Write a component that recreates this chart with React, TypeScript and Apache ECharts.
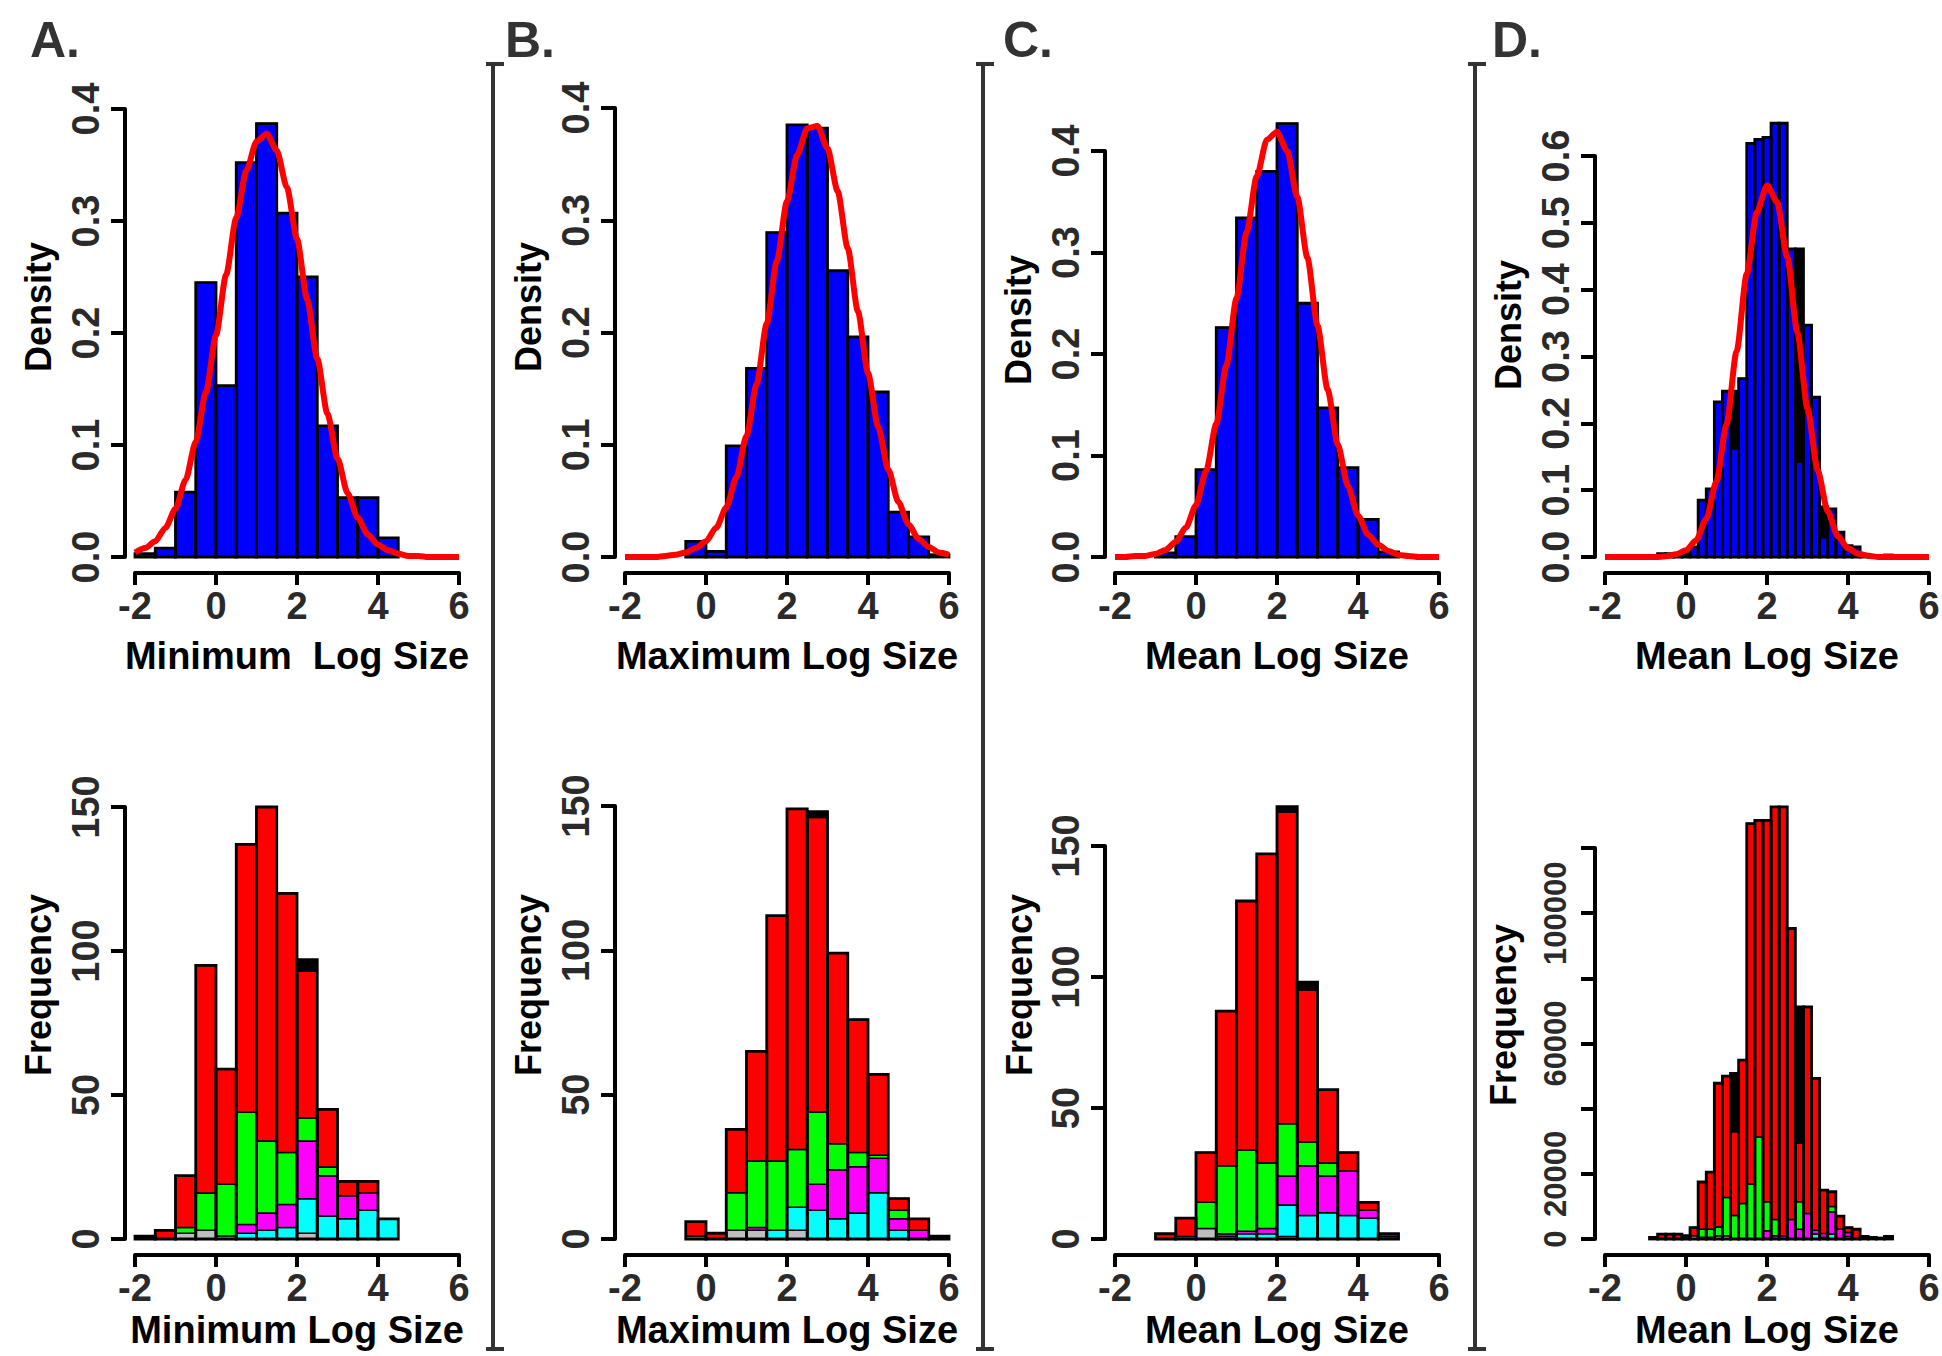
import React, { useEffect, useRef } from "react";
import * as echarts from "echarts";

// ---------- shared ----------
const xTickValues = [-2, 0, 2, 4, 6];
const curveX = [-2, -1.75, -1.5, -1.25, -1, -0.75, -0.5, -0.25, 0, 0.25, 0.5, 0.75, 1, 1.25, 1.5, 1.75, 2, 2.25, 2.5, 2.75, 3, 3.25, 3.5, 3.75, 4, 4.25, 4.5, 4.75, 5, 5.25, 5.5, 5.75, 6];

// ---------- Panel A : minimum log size (bins 0.5) ----------
const binStartA = [-2, -1.5, -1, -0.5, 0, 0.5, 1, 1.5, 2, 2.5, 3, 3.5, 4];
const densityA = [0.003, 0.008, 0.058, 0.245, 0.153, 0.352, 0.387, 0.307, 0.25, 0.117, 0.053, 0.053, 0.017];
const grayA = [0, 0, 2, 3, 0, 0, 0, 0, 2, 0, 0, 0, 0];
const purpleA = [0, 0, 0, 0, 0, 0, 0, 0, 0, 0, 0, 0, 0];
const cyanA = [0, 0, 0, 0, 1, 2, 3, 4, 12, 8, 7, 10, 7];
const magentaA = [0, 0, 0, 0, 0, 3, 6, 8, 20, 14, 8, 6, 0];
const greenA = [0, 0, 2, 13, 18, 39, 25, 18, 8, 3, 0, 0, 0];
const redA = [1, 3, 18, 79, 40, 93, 116, 90, 51, 20, 5, 4, 0];
const blackA = [0, 0, 0, 0, 0, 0, 0, 0, 4, 0, 0, 0, 0];
const curveA = [0.004, 0.008, 0.014, 0.026, 0.043, 0.069, 0.103, 0.147, 0.198, 0.252, 0.303, 0.345, 0.371, 0.378, 0.363, 0.33, 0.284, 0.23, 0.177, 0.128, 0.088, 0.057, 0.035, 0.02, 0.011, 0.006, 0.003, 0.001, 0.001, 0, 0, 0, 0];

// ---------- Panel B : maximum log size (bins 0.5) ----------
const binStartB = [-0.5, 0, 0.5, 1, 1.5, 2, 2.5, 3, 3.5, 4, 4.5, 5, 5.5];
const densityB = [0.014, 0.005, 0.099, 0.168, 0.289, 0.385, 0.382, 0.255, 0.196, 0.147, 0.04, 0.018, 0.002];
const grayB = [0, 0, 3, 3, 0, 3, 0, 0, 0, 0, 0, 0, 0];
const purpleB = [0, 0, 0, 0, 0, 0, 0, 0, 0, 0, 0, 0, 1];
const cyanB = [0, 0, 0, 0, 3, 8, 10, 7, 9, 16, 3, 0, 0];
const magentaB = [0, 0, 0, 1, 0, 0, 9, 17, 16, 12, 4, 3, 0];
const greenB = [1, 0, 13, 23, 24, 20, 25, 9, 5, 1, 3, 0, 0];
const redB = [5, 2, 22, 38, 85, 118, 102, 66, 46, 28, 4, 4, 0];
const blackB = [0, 0, 0, 0, 0, 0, 2, 0, 0, 0, 0, 0, 0];
const curveB = [0, 0, 0, 0, 0.001, 0.002, 0.004, 0.008, 0.014, 0.026, 0.044, 0.071, 0.108, 0.154, 0.208, 0.264, 0.317, 0.358, 0.382, 0.384, 0.364, 0.326, 0.275, 0.219, 0.164, 0.116, 0.078, 0.049, 0.029, 0.016, 0.009, 0.004, 0.002];

// ---------- Panel C : mean log size (bins 0.5) ----------
const binStartC = [-1, -0.5, 0, 0.5, 1, 1.5, 2, 2.5, 3, 3.5, 4, 4.5];
const densityC = [0.004, 0.02, 0.086, 0.226, 0.334, 0.38, 0.427, 0.25, 0.147, 0.088, 0.037, 0.005];
const grayC = [0, 0, 4, 1, 0, 0, 1, 0, 0, 0, 0, 0];
const purpleC = [0, 0, 0, 1, 0, 0, 0, 0, 0, 0, 0, 1];
const cyanC = [0, 0, 0, 0, 2, 2, 12, 9, 10, 9, 8, 0];
const magentaC = [0, 0, 0, 0, 1, 2, 11, 19, 14, 17, 3, 0];
const greenC = [0, 1, 10, 26, 31, 25, 20, 9, 5, 0, 0, 0];
const redC = [2, 7, 19, 59, 95, 118, 119, 58, 28, 7, 3, 1];
const blackC = [0, 0, 0, 0, 0, 0, 2, 3, 0, 0, 0, 0];
const curveC = [0, 0, 0.001, 0.001, 0.003, 0.007, 0.015, 0.029, 0.051, 0.085, 0.131, 0.189, 0.255, 0.32, 0.375, 0.411, 0.419, 0.4, 0.355, 0.295, 0.228, 0.165, 0.111, 0.07, 0.041, 0.022, 0.012, 0.006, 0.002, 0.001, 0, 0, 0];

// ---------- Panel D : mean log size (bins 0.2) ----------
const binStartD = [-0.9, -0.7, -0.5, -0.3, -0.1, 0.1, 0.3, 0.5, 0.7, 0.9, 1.1, 1.3, 1.5, 1.7, 1.9, 2.1, 2.3, 2.5, 2.7, 2.9, 3.1, 3.3, 3.5, 3.7, 3.9, 4.1, 4.3, 4.5, 4.7, 4.9];
const densityBlueD = [0, 0.005, 0.005, 0.005, 0.005, 0.015, 0.085, 0.102, 0.232, 0.248, 0.162, 0.267, 0.619, 0.625, 0.628, 0.649, 0.649, 0.461, 0.142, 0.347, 0.239, 0.029, 0.072, 0.037, 0.017, 0.015, 0.004, 0.002, 0.002, 0.003];
const densityBlackD = [0, 0, 0, 0, 0, 0, 0, 0, 0, 0, 0.086, 0, 0, 0, 0, 0, 0, 0, 0.319, 0, 0, 0.046, 0, 0, 0, 0, 0, 0, 0, 0];
const grayD = [0, 0, 0, 0, 500, 1000, 500, 500, 1000, 1000, 0, 0, 0, 0, 0, 0, 0, 0, 0, 0, 0, 0, 0, 0, 0, 0, 0, 0, 0, 0];
const purpleD = [0, 0, 0, 0, 0, 0, 0, 0, 0, 0, 0, 0, 0, 0, 0, 0, 0, 0, 0, 0, 0, 0, 0, 0, 0, 0, 0, 0, 0, 800];
const cyanD = [0, 0, 0, 0, 0, 0, 0, 0, 0, 0, 0, 0, 0, 0, 0, 0, 0, 0, 0, 0, 1500, 500, 1500, 0, 800, 0, 0, 0, 0, 0];
const magentaD = [0, 0, 0, 0, 0, 0, 0, 0, 0, 0, 0, 0, 0, 0, 2500, 1000, 1000, 6000, 3000, 7800, 1200, 1200, 6900, 3000, 1200, 0, 0, 0, 0, 0];
const greenD = [0, 0, 0, 0, 0, 0, 2500, 2500, 2700, 11700, 7200, 10900, 16900, 31300, 8900, 5000, 0, 0, 8400, 0, 0, 0, 1600, 0, 0, 0, 0, 0, 0, 0];
const redD = [500, 1500, 1500, 1500, 500, 2500, 14500, 17500, 44100, 37300, 25700, 44000, 110600, 97200, 117100, 126600, 131600, 89300, 18000, 63400, 46600, 13300, 4500, 4000, 1500, 3000, 800, 500, 300, 0];
const blackD = [0, 0, 0, 0, 0, 0, 0, 0, 0, 0, 17900, 0, 0, 0, 0, 0, 0, 0, 41800, 0, 0, 0, 0, 0, 0, 0, 0, 0, 0, 0];
const curveD = [0, 0, 0, 0, 0, 0, 0.001, 0.004, 0.01, 0.025, 0.057, 0.113, 0.198, 0.308, 0.424, 0.516, 0.556, 0.531, 0.449, 0.336, 0.222, 0.13, 0.068, 0.031, 0.013, 0.005, 0.002, 0, 0, 0, 0, 0, 0];
const dFreqLabels = ["0", "20000", "", "60000", "", "100000", ""];

// ---------- text ----------
const panelLetters = ["A.", "B.", "C.", "D."];
const xTitlesTop = ["Minimum\u00a0 Log Size", "Maximum Log Size", "Mean Log Size", "Mean Log Size"];
const xTitlesBottom = ["Minimum Log Size", "Maximum Log Size", "Mean Log Size", "Mean Log Size"];

// palette index: 0 gray,1 purple,2 cyan,3 magenta,4 green,5 red,6 black,7 blue
const PALETTE = ["#bebebe", "#a020f0", "#00ffff", "#ff00ff", "#00ff00", "#ff0000", "#000000", "#0000ff"];
const FONT = "Liberation Sans";

function buildStack(starts: number[], width: number, layers: number[][], colors: number[]) {
  const seg: number[][] = [];
  const outline: number[][] = [];
  starts.forEach((s, i) => {
    let base = 0;
    layers.forEach((arr, k) => {
      const v = arr[i];
      if (v > 0) {
        seg.push([s, s + width, base, base + v, colors[k]]);
        base += v;
      }
    });
    if (base > 0) outline.push([s, s + width, 0, base, 0]);
  });
  return { seg, outline };
}

const segRender = (params: any, api: any) => {
  const a = api.coord([api.value(0), api.value(3)]);
  const b = api.coord([api.value(1), api.value(2)]);
  return {
    type: "rect",
    shape: { x: a[0], y: a[1], width: b[0] - a[0], height: b[1] - a[1] },
    style: { fill: PALETTE[api.value(4)], stroke: "#000", lineWidth: 1.5 },
  };
};
const outlineRender = (params: any, api: any) => {
  const a = api.coord([api.value(0), api.value(3)]);
  const b = api.coord([api.value(1), api.value(2)]);
  return {
    type: "rect",
    shape: { x: a[0], y: a[1], width: b[0] - a[0], height: b[1] - a[1] },
    style: { fill: "none", stroke: "#000", lineWidth: 2.8 },
  };
};

const App: React.FC = () => {
  const ref = useRef<HTMLDivElement>(null);

  useEffect(() => {
    if (!ref.current) return;
    const chart = echarts.init(ref.current, null, { renderer: "svg" });

    const lefts = [135, 625, 1115, 1605];
    const W = 324;
    const topGrids = [
      { top: 109, height: 448 },
      { top: 108, height: 449 },
      { top: 151, height: 406 },
      { top: 156, height: 401 },
    ];
    const botGrids = [
      { top: 807, height: 432 },
      { top: 806, height: 433 },
      { top: 846, height: 393 },
      { top: 848, height: 391 },
    ];
    const grids: any[] = [];
    for (let i = 0; i < 4; i++) grids.push({ left: lefts[i], width: W, top: topGrids[i].top, height: topGrids[i].height, outerBoundsMode: "none", containLabel: false });
    for (let i = 0; i < 4; i++) grids.push({ left: lefts[i], width: W, top: botGrids[i].top, height: botGrids[i].height, outerBoundsMode: "none", containLabel: false });

    const xAxes = grids.map((_, i) => ({
      type: "value",
      gridIndex: i,
      min: xTickValues[0],
      max: xTickValues[xTickValues.length - 1],
      interval: 2,
      position: "bottom",
      offset: 16,
      axisLine: { show: true, onZero: false, lineStyle: { color: "#000", width: 4 } },
      axisTick: { show: true, length: 12, lineStyle: { color: "#000", width: 4 } },
      axisLabel: { show: true, margin: 14, fontSize: 38, fontWeight: "bold", fontFamily: FONT, color: "#2a2a2a", showMinLabel: true, showMaxLabel: true },
      splitLine: { show: false },
    }));

    const yMax = [0.4, 0.4, 0.4, 0.6, 150, 150, 150, 120000];
    const yInt = [0.1, 0.1, 0.1, 0.1, 50, 50, 50, 20000];
    const yAxes = grids.map((_, i) => ({
      type: "value",
      gridIndex: i,
      min: 0,
      max: yMax[i],
      interval: yInt[i],
      position: "left",
      offset: 10,
      axisLine: { show: true, onZero: false, lineStyle: { color: "#000", width: 4 } },
      axisTick: { show: true, length: 14, lineStyle: { color: "#000", width: 4 } },
      axisLabel: {
        show: true,
        rotate: 90,
        margin: i === 7 ? 24 : 20,
        interval: 0,
        fontSize: i === 7 ? 31 : 38,
        fontWeight: "bold",
        fontFamily: FONT,
        color: "#2a2a2a",
        showMinLabel: true,
        showMaxLabel: true,
        formatter: (v: number) => {
          if (i < 4) return v.toFixed(1);
          if (i === 7) return dFreqLabels[Math.round(v / 20000)] ?? "";
          return String(Math.round(v));
        },
      },
      splitLine: { show: false },
    }));

    const layerColors = [0, 1, 2, 3, 4, 5, 6];
    const bottomStacks = [
      buildStack(binStartA, 0.5, [grayA, purpleA, cyanA, magentaA, greenA, redA, blackA], layerColors),
      buildStack(binStartB, 0.5, [grayB, purpleB, cyanB, magentaB, greenB, redB, blackB], layerColors),
      buildStack(binStartC, 0.5, [grayC, purpleC, cyanC, magentaC, greenC, redC, blackC], layerColors),
      buildStack(binStartD, 0.2, [grayD, purpleD, cyanD, magentaD, greenD, redD, blackD], layerColors),
    ];
    const zeros = (n: number) => new Array(n).fill(0);
    const topStacks = [
      buildStack(binStartA, 0.5, [densityA, zeros(binStartA.length)], [7, 6]),
      buildStack(binStartB, 0.5, [densityB, zeros(binStartB.length)], [7, 6]),
      buildStack(binStartC, 0.5, [densityC, zeros(binStartC.length)], [7, 6]),
      buildStack(binStartD, 0.2, [densityBlueD, densityBlackD], [7, 6]),
    ];
    const curves = [curveA, curveB, curveC, curveD];

    const series: any[] = [];
    const addHist = (g: number, st: { seg: number[][]; outline: number[][] }) => {
      series.push({
        type: "custom",
        xAxisIndex: g,
        yAxisIndex: g,
        renderItem: segRender,
        data: st.seg,
        encode: { x: [0, 1], y: [2, 3] },
        clip: false,
        silent: true,
        z: 2,
      });
      series.push({
        type: "custom",
        xAxisIndex: g,
        yAxisIndex: g,
        renderItem: outlineRender,
        data: st.outline,
        encode: { x: [0, 1], y: [2, 3] },
        clip: false,
        silent: true,
        z: 3,
      });
    };
    for (let i = 0; i < 4; i++) {
      addHist(i, topStacks[i]);
      series.push({
        type: "line",
        xAxisIndex: i,
        yAxisIndex: i,
        data: curveX.map((x, k) => [x, curves[i][k]]),
        showSymbol: false,
        smooth: 0.25,
        smoothMonotone: "x",
        clip: false,
        silent: true,
        lineStyle: { color: "#ff0000", width: 6 },
        z: 4,
      });
    }
    for (let i = 0; i < 4; i++) addHist(4 + i, bottomStacks[i]);

    // graphic texts and separators
    const graphic: any[] = [];
    const txt = (x: number, y: number, text: string, size: number, color: string, rot = 0, align = "center") => ({
      type: "text",
      x,
      y,
      rotation: rot,
      silent: true,
      style: {
        text,
        fill: color,
        fontSize: size,
        fontWeight: "bold",
        fontFamily: FONT,
        align,
        textAlign: align,
        verticalAlign: "middle",
        textVerticalAlign: "middle",
      },
    });
    const letterX = [30, 505, 1003, 1492];
    const titleCx = [297, 787, 1277, 1767];
    const densityPos = [[38, 307], [528, 307], [1018, 320], [1508, 325]];
    const freqPos = [[38, 985], [528, 985], [1019, 985], [1503, 1015]];
    for (let i = 0; i < 4; i++) {
      graphic.push(txt(letterX[i], 40, panelLetters[i], 50, "#333", 0, "left"));
      graphic.push(txt(titleCx[i], 656, xTitlesTop[i], 38, "#000"));
      graphic.push(txt(titleCx[i], 1330, xTitlesBottom[i], 38, "#000"));
      graphic.push(txt(densityPos[i][0], densityPos[i][1], "Density", 36, "#000", Math.PI / 2));
      graphic.push(txt(freqPos[i][0], freqPos[i][1], "Frequency", 36, "#000", Math.PI / 2));
    }
    const sepX = [493, 983, 1475];
    sepX.forEach((x) => {
      const ls = { stroke: "#333", lineWidth: 4 };
      graphic.push({ type: "line", silent: true, shape: { x1: x, y1: 64, x2: x, y2: 1349 }, style: ls });
      graphic.push({ type: "line", silent: true, shape: { x1: x - 7, y1: 64, x2: x + 11, y2: 64 }, style: ls });
      graphic.push({ type: "line", silent: true, shape: { x1: x - 7, y1: 1349, x2: x + 11, y2: 1349 }, style: ls });
    });

    chart.setOption({
      animation: false,
      backgroundColor: "#ffffff",
      grid: grids,
      xAxis: xAxes,
      yAxis: yAxes,
      series,
      graphic,
    });

    return () => chart.dispose();
  }, []);

  return (
    <div
      ref={ref}
      style={{ position: "fixed", left: 0, top: 0, width: 1942, height: 1356, background: "#fff" }}
    />
  );
};

export default App;
